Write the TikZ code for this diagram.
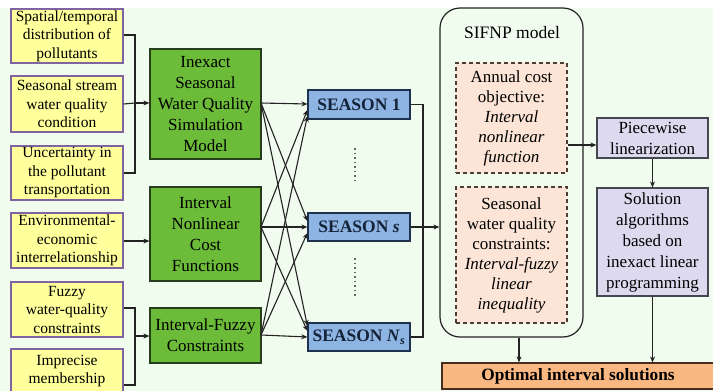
\documentclass[tikz,border=0pt]{standalone}
\usepackage{fontspec}
\newfontfamily\tms{Liberation Serif}
\usetikzlibrary{arrows.meta}
\definecolor{bggreen}{RGB}{240,252,238}
\definecolor{yfill}{RGB}{255,255,156}
\definecolor{ydraw}{RGB}{128,100,162}
\definecolor{gfill}{RGB}{108,188,58}
\definecolor{gdraw}{RGB}{40,60,30}
\definecolor{bfill}{RGB}{141,180,226}
\definecolor{bdraw}{RGB}{30,50,80}
\definecolor{pfill}{RGB}{252,229,214}
\definecolor{pdraw}{RGB}{80,60,50}
\definecolor{lfill}{RGB}{221,218,240}
\definecolor{ldraw}{RGB}{70,70,80}
\definecolor{ofill}{RGB}{249,183,130}
\definecolor{odraw}{RGB}{70,45,30}
\definecolor{lncol}{RGB}{35,35,35}
\tikzset{
  ybox/.style={draw=ydraw, fill=yfill, line width=1.3pt, align=center, inner sep=0pt,
    minimum width=112pt, font=\tms\fontsize{15.5}{18.5}\selectfont},
  gbox/.style={draw=gdraw, fill=gfill, line width=1.2pt, align=center, inner sep=0pt,
    minimum width=111pt, font=\tms\fontsize{17}{21}\selectfont},
  sbox/.style={draw=bdraw, fill=bfill, line width=1.2pt, align=center, inner sep=0pt,
    minimum width=102pt, font=\tms\fontsize{17.5}{21}\selectfont\bfseries, text=bdraw!70!black},
  pbox/.style={draw=pdraw, fill=pfill, line width=1.2pt, dashed, dash pattern=on 4pt off 3pt,
    align=center, inner sep=0pt, minimum width=111pt, font=\tms\fontsize{17}{20}\selectfont},
  lbox/.style={draw=ldraw, fill=lfill, line width=1.2pt, align=center, inner sep=0pt,
    minimum width=111pt, font=\tms\fontsize{17}{21}\selectfont},
  ln/.style={draw=lncol, line width=1.1pt},
  arr/.style={ln, -{Stealth[length=6pt,width=5pt]}}
}
\begin{document}
\begin{tikzpicture}[x=1pt,y=-1pt]
\useasboundingbox (0,0) rectangle (713,391);
\fill[white] (0,0) rectangle (713,391);
\fill[bggreen] (0,8) rectangle (713,391);

% yellow input boxes
\node[ybox, minimum height=54pt] (y1) at (67,36) {Spatial/temporal\\distribution of\\pollutants};
\node[ybox, minimum height=56pt] (y2) at (67,104) {Seasonal stream\\water quality\\condition};
\node[ybox, minimum height=54pt] (y3) at (67,173) {Uncertainty in\\the pollutant\\transportation};
\node[ybox, minimum height=55pt] (y4) at (67,240.5) {Environmental-\\economic\\interrelationship};
\node[ybox, minimum height=55pt] (y5) at (67,309.5) {Fuzzy\\water-quality\\constraints};
\node[ybox, minimum height=44pt] (y6) at (67,371) {Imprecise\\membership};

% green boxes
\node[gbox, minimum height=110pt] (g1) at (205.5,104) {Inexact\\Seasonal\\Water Quality\\Simulation\\Model};
\node[gbox, minimum height=94pt] (g2) at (205.5,234) {Interval\\Nonlinear\\Cost\\Functions};
\node[gbox, minimum height=55pt] (g3) at (205.5,335.5) {Interval-Fuzzy\\Constraints};

% seasons
\node[sbox, minimum height=29pt] (s1) at (359,104.5) {SEASON 1};
\node[sbox, minimum height=28pt] (ss) at (359,227) {SEASON \textit{s}};
\node[sbox, minimum height=28pt] (sn) at (359,337) {SEASON \textit{N}\textsubscript{\textit{s}}};

% SIFNP model
\node[draw=lncol, line width=1.2pt, rounded corners=20pt, minimum width=143pt, minimum height=329pt, inner sep=0pt] (sif) at (511.5,172.5) {};
\node[font=\tms\fontsize{17.5}{21}\selectfont] (siftitle) at (512,33) {SIFNP model};
\node[pbox, minimum height=110pt] (d1) at (511.5,118) {Annual cost\\objective:\\\textit{Interval}\\\textit{nonlinear}\\\textit{function}};
\node[pbox, minimum height=136pt] (d2) at (511.5,255) {Seasonal\\water quality\\constraints:\\\textit{Interval-fuzzy}\\\textit{linear}\\\textit{inequality}};

% right side
\node[lbox, minimum height=40pt] (pw) at (652.5,138) {Piecewise\\linearization};
\node[lbox, minimum height=108pt] (sol) at (652.5,242) {Solution\\algorithms\\based on\\inexact linear\\programming};
\node[draw=odraw, fill=ofill, line width=1.2pt, minimum width=276pt, minimum height=26pt, inner sep=0pt,
  font=\tms\fontsize{17.3}{21}\selectfont\bfseries] (opt) at (580,376) {\hspace*{-4pt}Optimal interval solutions\hspace*{0pt}};

% brackets on the left
\coordinate (b1) at (135,103);
\draw[ln] (y1.east |- 0,35) -| (b1) |- (y3.east |- 0,173);
\draw[ln] (y2.east |- 0,104) -- (b1);
\draw[arr] (b1) -- (g1.west |- b1);
\draw[arr] (y4.east |- 0,241) -- (g2.west |- 0,241);
\coordinate (b3) at (135,336);
\draw[ln] (y5.east |- 0,308) -| (b3) |- (y6.east |- 0,385);
\draw[arr] (b3) -- (g3.west |- b3);

% green to seasons
\coordinate (o1) at (261,103);
\coordinate (o2) at (261,227);
\coordinate (o3) at (261,335);
\draw[arr] (o1) -- (s1.west |- 0,104);
\draw[arr] (o1) -- (ss.west |- 0,221);
\draw[arr] (o1) -- (sn.west |- 0,326);
\draw[arr] (o2) -- (s1.west |- 0,110);
\draw[arr] (o2) -- (ss.west |- 0,227);
\draw[arr] (o2) -- (sn.west |- 0,331);
\draw[arr] (o3) -- (s1.west |- 0,116);
\draw[arr] (o3) -- (ss.west |- 0,233);
\draw[arr] (o3) -- (sn.west |- 0,337);

% dots between seasons
\coordinate (dA) at (355,148);
\coordinate (dB) at (355,182);
\coordinate (dC) at (355,258);
\coordinate (dD) at (355,296);
\draw[draw=lncol!70, line width=1.2pt, dash pattern=on 1.5pt off 3pt] (dA) -- (dB);
\draw[draw=lncol!70, line width=1.2pt, dash pattern=on 1.5pt off 3pt] (dC) -- (dD);

% seasons to SIFNP
\coordinate (jn) at (423,227);
\draw[ln] (s1.east) -| (jn) |- (sn.east);
\draw[arr] (ss.east) -- (sif.west |- ss.east);

% right arrows
\draw[arr] (d1.east |- 0,145) -- (pw.west |- 0,145);
\draw[arr] (pw.south) -- (sol.north);
\draw[arr] (sif.south -| 519,0) -- (opt.north -| 519,0);
\draw[arr] (sol.south) -- (opt.north -| sol.south);
\end{tikzpicture}
\end{document}
